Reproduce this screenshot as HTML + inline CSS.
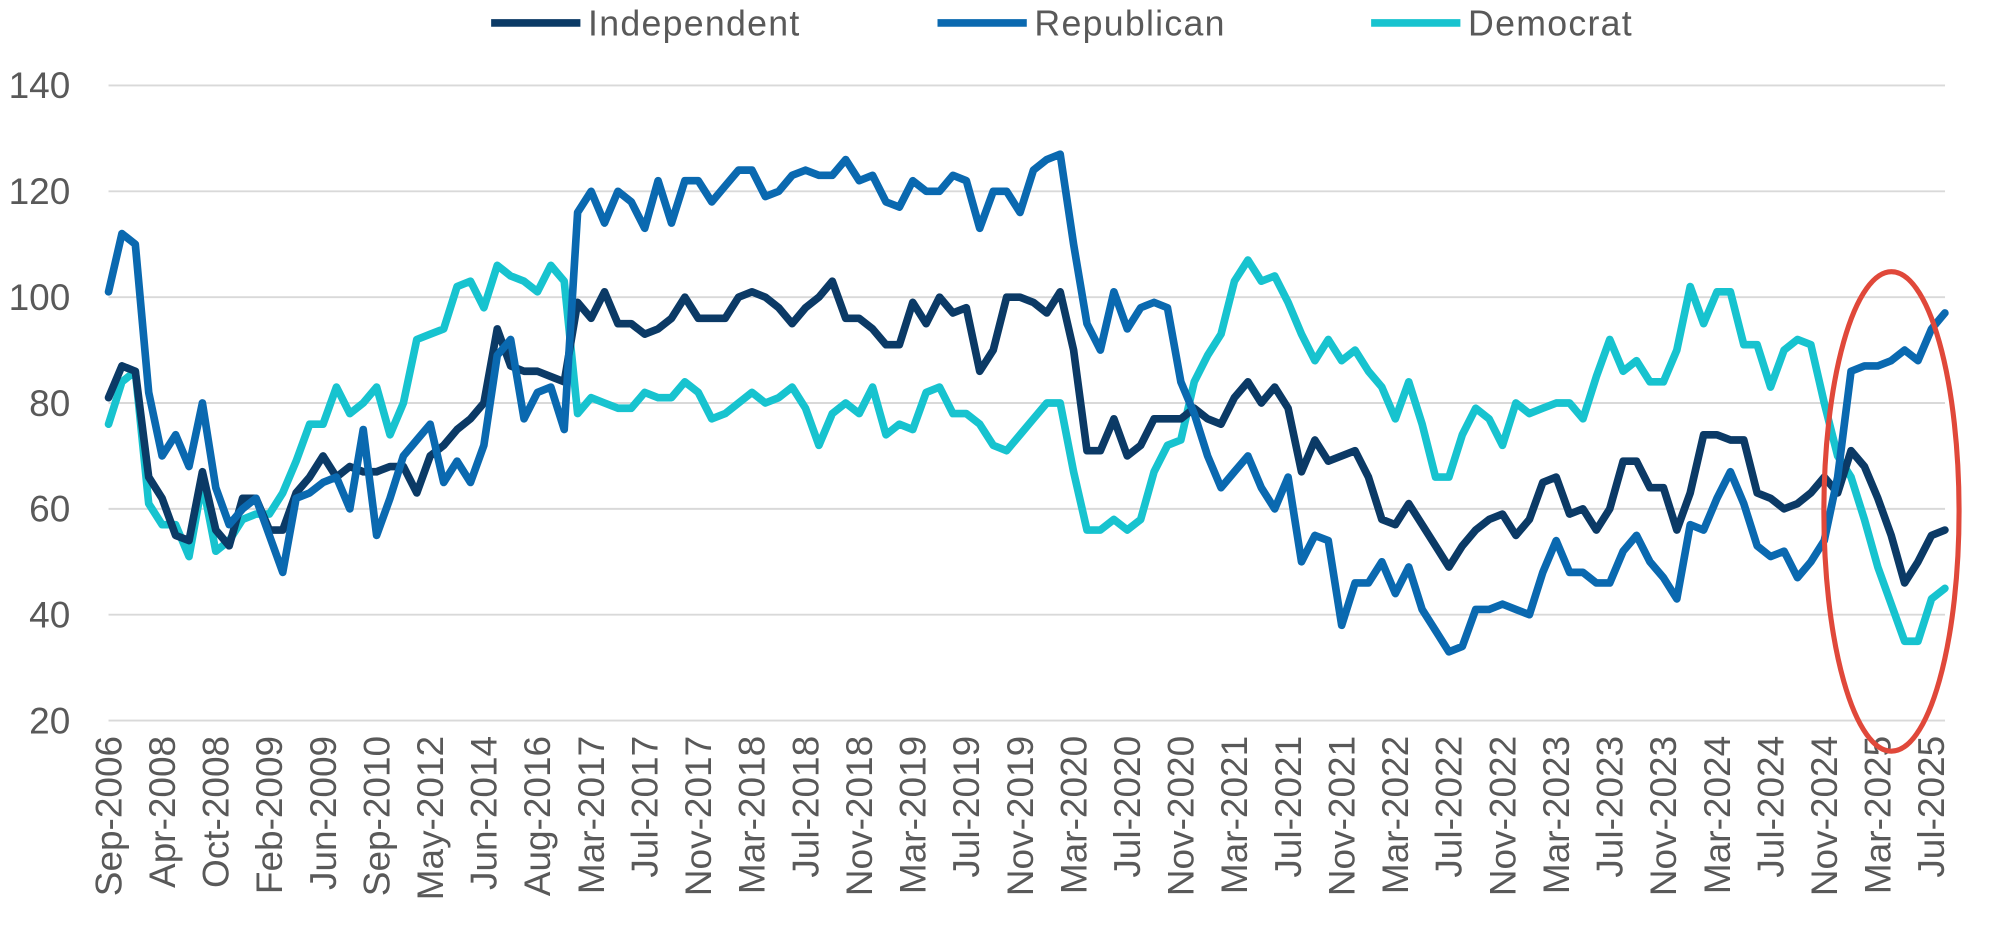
<!DOCTYPE html>
<html><head><meta charset="utf-8"><style>
html,body{margin:0;padding:0;background:#fff;}
svg{display:block;font-family:"Liberation Sans",sans-serif;}
</style></head><body>
<svg id="c" width="2000" height="931" viewBox="0 0 1568 730" xmlns="http://www.w3.org/2000/svg"></svg>
<script>
var R=[101,112,110,82,70,74,68,80,64,57,60,62,55,48,62,63,65,66,60,75,55,62,70,73,76,65,69,65,72,89,92,77,82,83,75,116,120,114,120,118,113,122,114,122,122,118,121,124,124,119,120,123,124,123,123,126,122,123,118,117,122,120,120,123,122,113,120,120,116,124,126,127,110,95,90,101,94,98,99,98,84,78,70,64,67,70,64,60,66,50,55,54,38,46,46,50,44,49,41,37,33,34,41,41,42,41,40,48,54,48,48,46,46,52,55,50,47,43,57,56,62,67,61,53,51,52,47,50,54,66,86,87,87,88,90,88,94,97];
var I=[81,87,86,66,62,55,54,67,56,53,62,62,56,56,63,66,70,66,68,67,67,68,68,63,70,72,75,77,80,94,87,86,86,85,84,99,96,101,95,95,93,94,96,100,96,96,96,100,101,100,98,95,98,100,103,96,96,94,91,91,99,95,100,97,98,86,90,100,100,99,97,101,90,71,71,77,70,72,77,77,77,79,77,76,81,84,80,83,79,67,73,69,70,71,66,58,57,61,57,53,49,53,56,58,59,55,58,65,66,59,60,56,60,69,69,64,64,56,63,74,74,73,73,63,62,60,61,63,66,63,71,68,62,55,46,50,55,56];
var D=[76,84,86,61,57,57,51,65,52,54,58,59,59,63,69,76,76,83,78,80,83,74,80,92,93,94,102,103,98,106,104,103,101,106,103,78,81,80,79,79,82,81,81,84,82,77,78,80,82,80,81,83,79,72,78,80,78,83,74,76,75,82,83,78,78,76,72,71,74,77,80,80,67,56,56,58,56,58,67,72,73,84,89,93,103,107,103,104,99,93,88,92,88,90,86,83,77,84,76,66,66,74,79,77,72,80,78,79,80,80,77,85,92,86,88,84,84,90,102,95,101,101,91,91,83,90,92,91,80,70,66,58,49,42,35,35,43,45];
var s='';
function Y(v){return 565-(v-20)*4.15;}
function X(i){return 85+10.51*i;}
for(var v=20;v<=140;v+=20){var y=Y(v);s+='<line x1="85" x2="1525" y1="'+y+'" y2="'+y+'" stroke="#d9d9d9" stroke-width="1.5"/>';
s+='<text x="55" y="'+(y+10)+'" text-anchor="end" font-size="29" fill="#595959">'+v+'</text>';}
var L=['Sep-2006','Apr-2008','Oct-2008','Feb-2009','Jun-2009','Sep-2010','May-2012','Jun-2014','Aug-2016','Mar-2017','Jul-2017','Nov-2017','Mar-2018','Jul-2018','Nov-2018','Mar-2019','Jul-2019','Nov-2019','Mar-2020','Jul-2020','Nov-2020','Mar-2021','Jul-2021','Nov-2021','Mar-2022','Jul-2022','Nov-2022','Mar-2023','Jul-2023','Nov-2023','Mar-2024','Jul-2024','Nov-2024','Mar-2025','Jul-2025'];
for(var k=0;k<L.length;k++){var x=X(k*4)+10;s+='<text transform="translate('+x+',577) rotate(-90)" text-anchor="end" font-size="29" fill="#595959">'+L[k]+'</text>';}
function P(a,c){var p=a.map(function(v,i){return X(i).toFixed(1)+','+Y(v).toFixed(1)}).join(' ');return '<polyline points="'+p+'" fill="none" stroke="'+c+'" stroke-width="6" stroke-linejoin="round" stroke-linecap="round"/>';}
s+=P(D,'#17c3cf')+P(I,'#0b3a66')+P(R,'#0a69b0');
s+='<ellipse cx="1483" cy="401" rx="53" ry="188" fill="none" stroke="#e0483a" stroke-width="4"/>';
var lg=[[385,'#0b3a66','Independent'],[735,'#0a69b0','Republican'],[1075,'#17c3cf','Democrat']];
lg.forEach(function(g){s+='<line x1="'+g[0]+'" x2="'+(g[0]+70)+'" y1="18" y2="18" stroke="'+g[1]+'" stroke-width="6"/><text x="'+(g[0]+76)+'" y="28" font-size="28" fill="#595959" letter-spacing="1">'+g[2]+'</text>';});
document.getElementById('c').innerHTML=s;
</script>
</body></html>
